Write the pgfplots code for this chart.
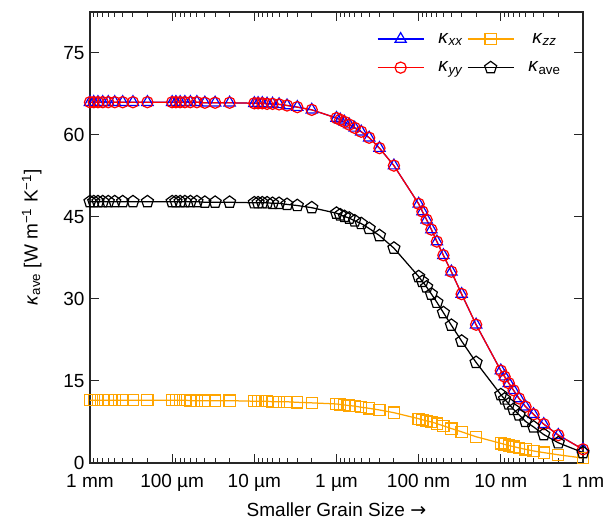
\documentclass[border=0pt]{standalone}
\usepackage{fontspec}
\setmainfont{Liberation Sans}
\newfontfamily\dejavu{DejaVu Sans}
\usepackage{pgfplots}
\usepackage{pgfplotstable}
\pgfplotsset{compat=1.18}
\definecolor{kblue}{RGB}{0,0,255}
\definecolor{kred}{RGB}{255,0,0}
\definecolor{korange}{RGB}{255,165,0}
\newcommand{\lfont}{\fontsize{19}{22}\selectfont}

\pgfplotstableread{
x kxx kyy kzz kave
1000000 66.0 66.0 11.5 47.8
900000 66.0 66.0 11.5 47.8
800000 66.0 66.0 11.5 47.8
700000 66.0 66.0 11.5 47.8
600000 66.0 66.0 11.5 47.8
500000 66.0 66.0 11.5 47.8
400000 66.0 66.0 11.5 47.8
300000 66.0 66.0 11.5 47.8
200000 66.0 66.0 11.5 47.8
100000 66.0 66.0 11.5 47.8
90000 66.0 66.0 11.5 47.8
80000 66.0 66.0 11.5 47.8
70000 66.0 66.0 11.5 47.8
60000 66.0 66.0 11.4 47.8
50000 66.0 66.0 11.4 47.8
40000 65.9 65.9 11.4 47.7
30000 65.9 65.9 11.4 47.7
20000 65.9 65.9 11.4 47.7
10000 65.8 65.8 11.3 47.6
9000 65.8 65.8 11.3 47.6
8000 65.8 65.8 11.3 47.6
7000 65.7 65.7 11.3 47.6
6000 65.7 65.7 11.2 47.5
5000 65.6 65.6 11.2 47.5
4000 65.4 65.4 11.2 47.3
3000 65.1 65.1 11.1 47.1
2000 64.6 64.6 11.0 46.7
1000 63.1 63.1 10.8 45.7
900 62.8 62.8 10.7 45.4
800 62.4 62.4 10.6 45.1
700 61.9 61.9 10.5 44.8
600 61.3 61.3 10.4 44.3
500 60.6 60.6 10.2 43.8
400 59.5 59.5 10.0 42.9
300 57.6 57.6 9.7 41.6
200 54.4 54.4 9.2 39.3
100 47.4 47.4 8.1 34.1
90 46.0 46.0 7.9 33.2
80 44.5 44.5 7.7 32.2
70 42.7 42.7 7.5 30.9
60 40.5 40.5 7.2 29.4
50 38.0 38.0 6.8 27.5
40 35.0 35.0 6.3 25.2
30 30.9 30.9 5.7 22.3
20 25.3 25.3 4.8 18.4
10 16.9 16.9 3.6 12.5
9 15.8 15.8 3.4 11.7
8 14.6 14.6 3.2 10.8
7 13.3 13.3 3.0 9.8
6 11.8 11.8 2.75 8.8
5 10.3 10.3 2.5 7.6
4 8.9 8.9 2.2 6.6
3 7.1 7.1 1.9 5.2
2 5.1 5.1 1.5 3.7
1 2.5 2.5 0.9 1.9
}\datatable

\begin{document}
\begin{tikzpicture}
\begin{axis}[
  scale only axis, width=493pt, height=451pt,
  xmode=log, x dir=reverse, xmin=1, xmax=1e6,
  ymin=0, ymax=82.5,
  xtick={1,10,100,1000,10000,100000,1000000},
  xticklabels={1 nm,10 nm,100 nm,1 µm,10 µm,100 µm,1 mm},
  minor xtick={2,3,4,5,6,7,8,9,20,30,40,50,60,70,80,90,200,300,400,500,600,700,800,900,2000,3000,4000,5000,6000,7000,8000,9000,20000,30000,40000,50000,60000,70000,80000,90000,200000,300000,400000,500000,600000,700000,800000,900000},
  ytick={0,15,30,45,60,75},
  major tick length=9pt, minor tick length=5pt,
  tick style={line width=1pt, color=black!85},
  axis line style={line width=1.3pt, color=black!85},
  tick label style={font=\lfont},
  /pgf/number format/assume math mode=true,
  xticklabel style={yshift=-8pt},
  yticklabel style={xshift=-2pt},
  xlabel={Smaller Grain Size {\dejavu →}},
  ylabel={\textit{κ}\textsubscript{ave} [W m\textsuperscript{−1} K\textsuperscript{−1}]},
  label style={font=\lfont},
  xlabel style={yshift=-4pt},
  ylabel style={yshift=15pt},
  legend columns=2,
  legend style={draw=none, fill=none, at={(0.965,0.962)}, anchor=north east,
    font=\lfont, row sep=13pt,
    /tikz/every odd column/.append style={column sep=12pt},
    /tikz/every even column/.append style={column sep=2pt}},
  legend image code/.code={\draw[mark repeat=2,mark phase=2,line width=1.25pt] plot coordinates {(0pt,0pt) (23pt,0pt) (46pt,0pt)};},
  every axis plot/.append style={line width=1.25pt},
]
\addplot[kblue, mark=triangle, mark size=6.5pt, mark options={solid, line width=1.2pt}] table[x=x, y=kxx] {\datatable};
\addlegendentry{\lfont\textit{κ}\textsubscript{\textit{xx}}}
\addplot[korange, mark=square, mark size=5.6pt, mark options={solid, line width=1.2pt}] table[x=x, y=kzz] {\datatable};
\addlegendentry{\lfont\textit{κ}\textsubscript{\textit{zz}}}
\addplot[kred, mark=o, mark size=5.6pt, mark options={solid, line width=1.2pt}] table[x=x, y=kyy] {\datatable};
\addlegendentry{\lfont\textit{κ}\textsubscript{\textit{yy}}}
\addplot[black, mark=pentagon, mark size=6.3pt, mark options={solid, line width=1.2pt}] table[x=x, y=kave] {\datatable};
\addlegendentry{\lfont\textit{κ}\textsubscript{ave}}
\end{axis}
\path (current axis.south west) ++(-90pt,-62pt);
\path (current axis.north east) ++(27pt,12pt);
\end{tikzpicture}
\end{document}
